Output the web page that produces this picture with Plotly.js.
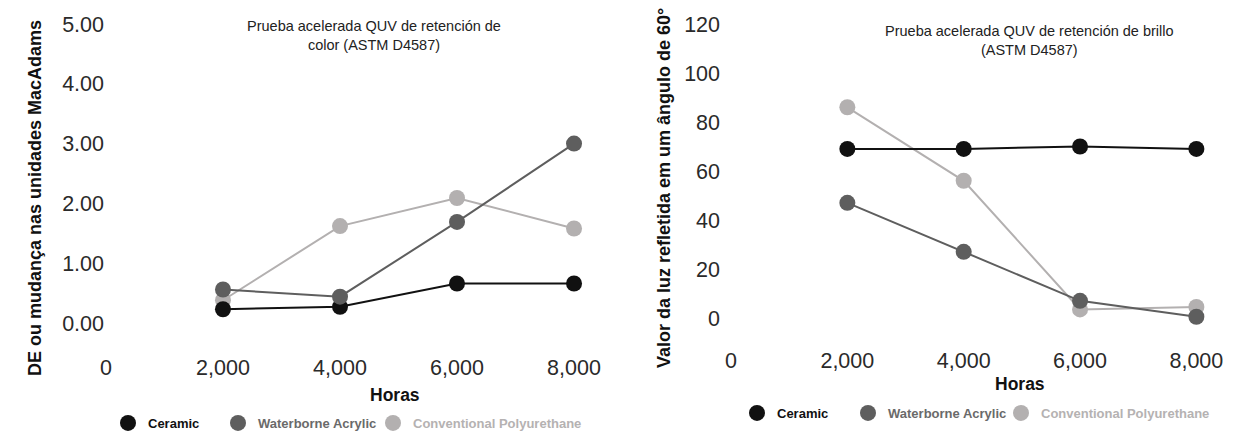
<!DOCTYPE html>
<html>
<head>
<meta charset="utf-8">
<script src="https://cdn.plot.ly/plotly-3.0.1.min.js"></script>
<style>html,body{margin:0;padding:0;background:#fff}#chart{width:1249px;height:434px}</style>
</head>
<body>
<div id="chart"></div>
<script>
// ---- data ----
const hours = [2000, 4000, 6000, 8000];
const xTickVals = [0, 2000, 4000, 6000, 8000];

const seriesNames = ["Ceramic", "Waterborne Acrylic", "Conventional Polyurethane"];
const seriesColors = ["#111111", "#5e5e5e", "#b3b0b0"];
const legendTextColors = ["#111111", "#6a6a6a", "#b5b2b2"];

// Left chart: DE (MacAdams units)
const colorCeramic = [0.23, 0.27, 0.66, 0.66];
const colorWaterborne = [0.56, 0.44, 1.69, 3.00];
const colorConventional = [0.38, 1.62, 2.09, 1.58];
const colorYTicks = [0, 1, 2, 3, 4, 5];

// Right chart: 60° gloss
const glossCeramic = [69, 69, 70, 69];
const glossWaterborne = [47, 27, 7, 0.5];
const glossConventional = [86, 56, 3.5, 4.5];
const glossYTicks = [0, 20, 40, 60, 80, 100, 120];

const leftTitle = "Prueba acelerada QUV de retención de<br>color (ASTM D4587)";
const rightTitle = "Prueba acelerada QUV de retención de brillo<br>(ASTM D4587)";
const leftYTitle = "DE ou mudança nas unidades MacAdams";
const rightYTitle = "Valor da luz refletida em um ângulo de 60°";
const xTitle = "Horas";

const W = 1249, H = 434;
const FONT = "Liberation Sans, Arial, sans-serif";

function line(y, idx, xa, ya) {
  return {
    x: hours, y: y, xaxis: xa, yaxis: ya, type: "scatter", mode: "lines+markers",
    name: seriesNames[idx], showlegend: false,
    line: {color: seriesColors[idx], width: 2},
    marker: {color: seriesColors[idx], size: 16},
    hoverinfo: "x+y"
  };
}
function legendEntry(idx, xa, ya, leg) {
  return {
    x: [null], y: [null], xaxis: xa, yaxis: ya, type: "scatter", mode: "markers",
    name: '<b><span style="color:' + legendTextColors[idx] + '">' + seriesNames[idx] + '</span></b>',
    legend: leg, showlegend: true,
    marker: {color: seriesColors[idx], size: 22}
  };
}

// draw order: Conventional, Ceramic, Waterborne
const data = [
  line(colorConventional, 2, "x", "y"),
  line(colorCeramic, 0, "x", "y"),
  line(colorWaterborne, 1, "x", "y"),
  line(glossConventional, 2, "x2", "y2"),
  line(glossCeramic, 0, "x2", "y2"),
  line(glossWaterborne, 1, "x2", "y2"),
  legendEntry(0, "x", "y", "legend"),
  legendEntry(1, "x", "y", "legend2"),
  legendEntry(2, "x", "y", "legend3"),
  legendEntry(0, "x2", "y2", "legend4"),
  legendEntry(1, "x2", "y2", "legend5"),
  legendEntry(2, "x2", "y2", "legend6")
];

const tickFont = {family: FONT, size: 21.5, color: "#2a2a2a"};
const xText = xTickVals.map(v => v.toLocaleString("en-US"));

function leg(px, py) {
  return {orientation: "h", x: px / W, xanchor: "left", y: 1 - py / H, yanchor: "middle",
          font: {family: FONT, size: 13}, bgcolor: "rgba(0,0,0,0)"};
}

const layout = {
  width: W, height: H,
  margin: {l: 0, r: 0, t: 0, b: 0, autoexpand: false},
  paper_bgcolor: "#fff", plot_bgcolor: "#fff",
  font: {family: FONT, color: "#222"},
  showlegend: true,
  xaxis: {
    domain: [60 / W, 620 / W], range: [-786, 8786], anchor: "y",
    tickvals: xTickVals, ticktext: xText, showgrid: false, zeroline: false,
    showline: false, ticks: "", tickfont: tickFont
  },
  yaxis: {
    domain: [1 - 352 / H, 1 - 10 / H], range: [-0.485, 5.234],
    anchor: "free", position: 104 / W,
    tickvals: colorYTicks, tickformat: ".2f", showgrid: false, zeroline: false,
    showline: false, ticks: "", tickfont: tickFont
  },
  xaxis2: {
    domain: [700 / W, 1240 / W], range: [-533, 8750], anchor: "y2",
    tickvals: xTickVals, ticktext: xText, showgrid: false, zeroline: false,
    showline: false, ticks: "", tickfont: tickFont
  },
  yaxis2: {
    domain: [1 - 345 / H, 1 - 10 / H], range: [-11.02, 125.7],
    anchor: "free", position: 720 / W,
    tickvals: glossYTicks, showgrid: false, zeroline: false,
    showline: false, ticks: "", tickfont: tickFont
  },
  legend: leg(108, 423),
  legend2: leg(218, 423),
  legend3: leg(373, 423),
  legend4: leg(737, 413),
  legend5: leg(848, 413),
  legend6: leg(1001, 413),
  annotations: [
    {text: leftTitle, xref: "paper", yref: "paper", x: 374 / W, y: 1 - 35 / H,
     xanchor: "center", yanchor: "middle", showarrow: false,
     font: {family: FONT, size: 14.5, color: "#222"}},
    {text: rightTitle, xref: "paper", yref: "paper", x: 1029 / W, y: 1 - 41 / H,
     xanchor: "center", yanchor: "middle", showarrow: false,
     font: {family: FONT, size: 14.5, color: "#222"}},
    {text: "<b>" + leftYTitle + "</b>", xref: "paper", yref: "paper", x: 35 / W, y: 1 - 198 / H,
     xanchor: "center", yanchor: "middle", textangle: -90, showarrow: false,
     font: {family: FONT, size: 18, color: "#111"}},
    {text: "<b>" + rightYTitle + "</b>", xref: "paper", yref: "paper", x: 664 / W, y: 1 - 188 / H,
     xanchor: "center", yanchor: "middle", textangle: -90, showarrow: false,
     font: {family: FONT, size: 18, color: "#111"}},
    {text: "<b>" + xTitle + "</b>", xref: "paper", yref: "paper", x: 395 / W, y: 1 - 395 / H,
     xanchor: "center", yanchor: "middle", showarrow: false,
     font: {family: FONT, size: 17.5, color: "#111"}},
    {text: "<b>" + xTitle + "</b>", xref: "paper", yref: "paper", x: 1020 / W, y: 1 - 384 / H,
     xanchor: "center", yanchor: "middle", showarrow: false,
     font: {family: FONT, size: 17.5, color: "#111"}}
  ]
};

Plotly.newPlot("chart", data, layout, {displayModeBar: false, staticPlot: true});
</script>
</body>
</html>
